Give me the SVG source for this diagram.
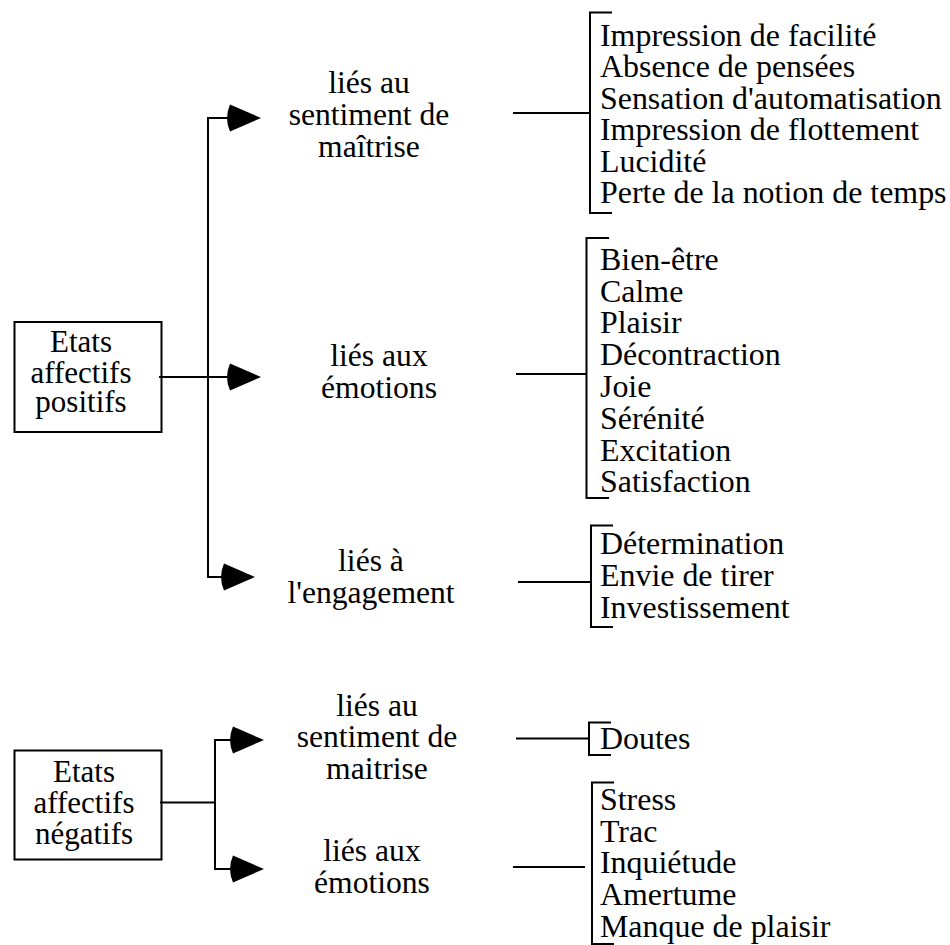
<svg xmlns="http://www.w3.org/2000/svg" xmlns:xlink="http://www.w3.org/1999/xlink" width="950" height="945" viewBox="0 0 950 945">
<style>
text{font-size:31px;fill:#000}
.c{text-anchor:middle}
.ln{fill:none;stroke:#000;stroke-width:2}
</style>
<defs>
<path id="ah" d="M0,0 L-31,-13.5 Q-37,0 -31,13.5 Z" fill="#000"/>
</defs>
<rect width="950" height="945" fill="#fff"/>
<g font-family="Liberation Serif, Times New Roman, DejaVu Serif, serif">
<g id="pos-root">
<rect x="14.5" y="322" width="147" height="110" class="ln"/>
<text class="c" x="81" y="351.5">Etats</text>
<text class="c" x="81" y="382.5">affectifs</text>
<text class="c" x="81" y="412">positifs</text>
</g>
<g id="pos-maitrise" transform="matrix(1.02 0 0 1 -7.38 0)">
<text class="c" x="369" y="93">liés au</text>
<text class="c" x="369" y="125.5">sentiment de</text>
<text class="c" x="369" y="157.5">maîtrise</text>
</g>
<g id="pos-emotions" transform="matrix(1.02 0 0 1 -7.58 0)">
<text class="c" x="379" y="366.5">liés aux</text>
<text class="c" x="379" y="398">émotions</text>
</g>
<g id="pos-engagement" transform="matrix(1.02 0 0 1 -7.42 0)">
<text class="c" x="371" y="571.5">liés à</text>
<text class="c" x="371" y="603">l'engagement</text>
</g>
<g id="list-maitrise">
<path class="ln" d="M612,12.5 H590 V213 H612"/>
<g transform="matrix(1.03 0 0 1 -18 0)">
<text x="600" y="46">Impression de facilité</text>
<text x="600" y="77.5">Absence de pensées</text>
<text x="600" y="109">Sensation d'automatisation</text>
<text x="600" y="140.5">Impression de flottement</text>
<text x="600" y="172">Lucidité</text>
<text x="600" y="203.5">Perte de la notion de temps</text>
</g>
</g>
<g id="list-emotions">
<path class="ln" d="M609,238 H586.5 V498 H609"/>
<g transform="matrix(1.03 0 0 1 -18 0)">
<text x="600" y="270">Bien-être</text>
<text x="600" y="302">Calme</text>
<text x="600" y="333.5">Plaisir</text>
<text x="600" y="365.5">Décontraction</text>
<text x="600" y="397">Joie</text>
<text x="600" y="429">Sérénité</text>
<text x="600" y="461">Excitation</text>
<text x="600" y="492.5">Satisfaction</text>
</g>
</g>
<g id="list-engagement">
<path class="ln" d="M613,525.5 H591 V627 H613"/>
<g transform="matrix(1.03 0 0 1 -18 0)">
<text x="600" y="554.5">Détermination</text>
<text x="600" y="586.5">Envie de tirer</text>
<text x="600" y="618.5">Investissement</text>
</g>
</g>
<g id="neg-root">
<rect x="14.5" y="750.5" width="147" height="109" class="ln"/>
<text class="c" x="84" y="781.5">Etats</text>
<text class="c" x="84" y="812.5">affectifs</text>
<text class="c" x="84" y="843.5">négatifs</text>
</g>
<g id="neg-maitrise" transform="matrix(1.02 0 0 1 -7.54 0)">
<text class="c" x="377" y="716">liés au</text>
<text class="c" x="377" y="747.5">sentiment de</text>
<text class="c" x="377" y="779">maitrise</text>
</g>
<g id="neg-emotions" transform="matrix(1.02 0 0 1 -7.44 0)">
<text class="c" x="372" y="861.5">liés aux</text>
<text class="c" x="372" y="893">émotions</text>
</g>
<g id="list-neg-maitrise">
<path class="ln" d="M611,722.5 H589 V755 H611"/>
<text x="600" y="749" transform="matrix(1.03 0 0 1 -18 0)">Doutes</text>
</g>
<g id="list-neg-emotions">
<path class="ln" d="M614,782.5 H592 V944 H614"/>
<g transform="matrix(1.03 0 0 1 -18 0)">
<text x="600" y="810.5">Stress</text>
<text x="600" y="842">Trac</text>
<text x="600" y="873.5">Inquiétude</text>
<text x="600" y="905.5">Amertume</text>
<text x="600" y="937">Manque de plaisir</text>
</g>
</g>
</g>
<g id="connectors">
<path class="ln" d="M230,118 H208 V577 H226"/>
<path class="ln" d="M159,377 H230"/>
<use xlink:href="#ah" x="261" y="118"/>
<use xlink:href="#ah" x="261" y="377"/>
<use xlink:href="#ah" x="255" y="577"/>
<path class="ln" d="M513,113 H590"/>
<path class="ln" d="M516,374 H586.5"/>
<path class="ln" d="M518,582 H591"/>
<path class="ln" d="M233,740 H215 V869 H233"/>
<path class="ln" d="M160,802.5 H215"/>
<use xlink:href="#ah" x="264" y="740"/>
<use xlink:href="#ah" x="264" y="869"/>
<path class="ln" d="M516,738.5 H589"/>
<path class="ln" d="M513,867 H585"/>
</g>
</svg>
